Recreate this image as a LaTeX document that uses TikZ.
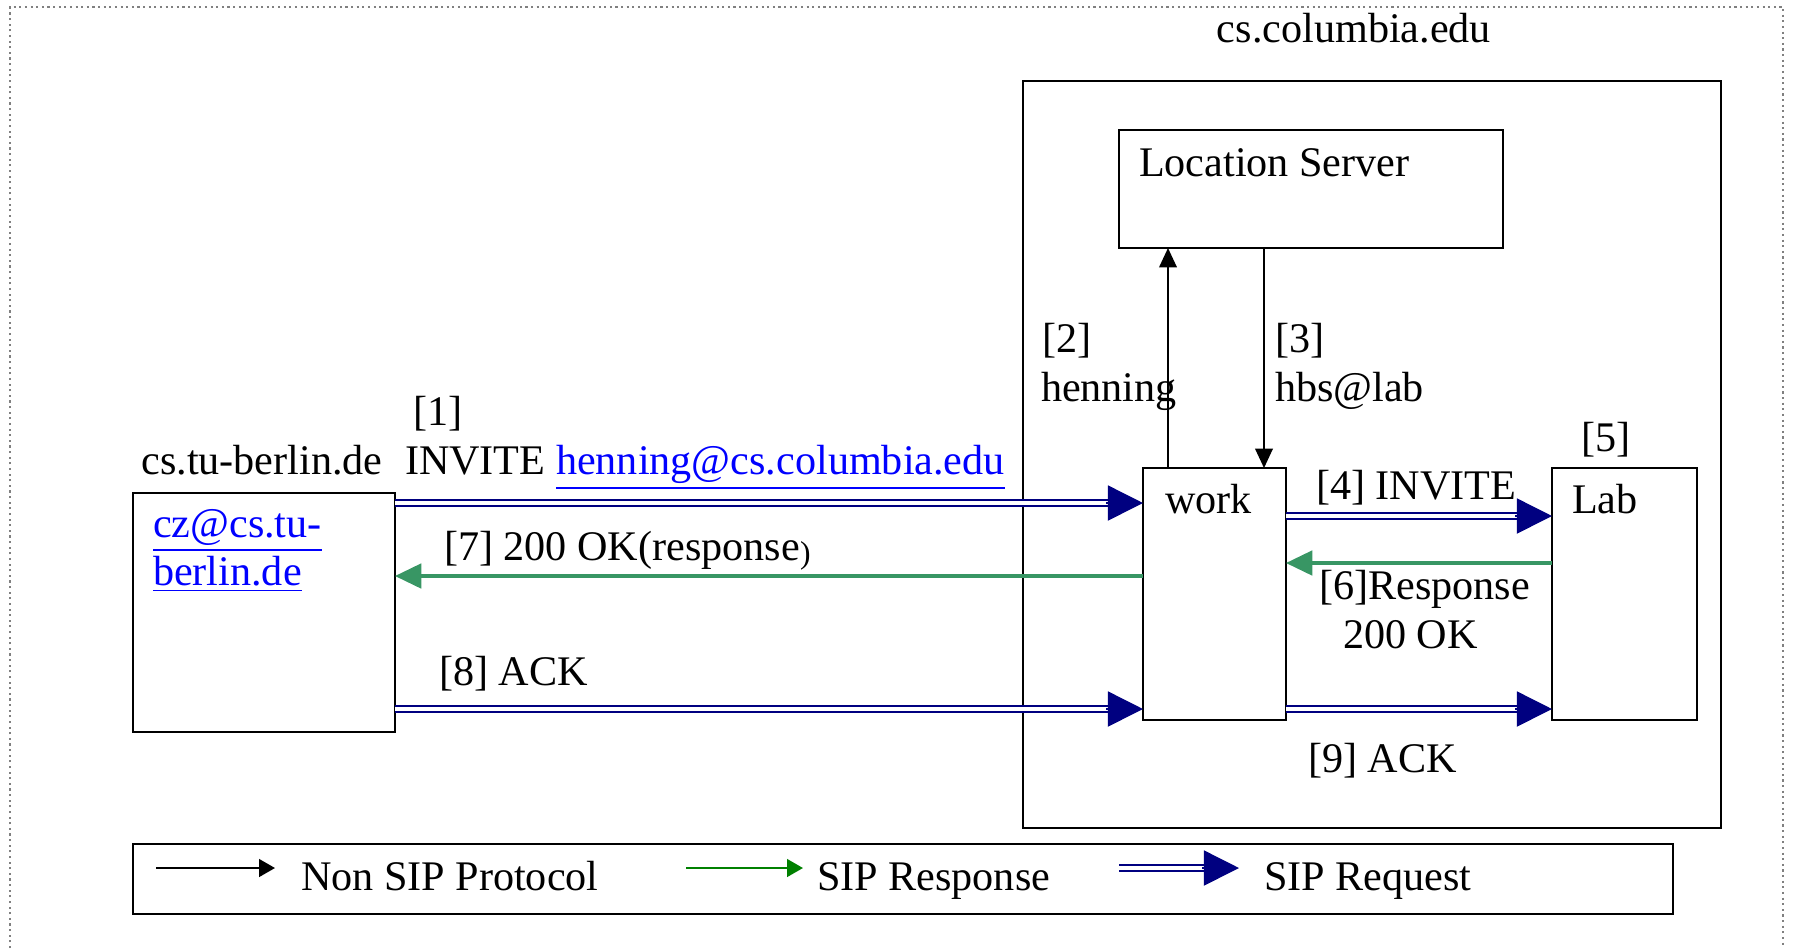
\documentclass[tikz,border=0pt]{standalone}
\usepackage{fontspec}
\setmainfont{Liberation Serif}
\usetikzlibrary{arrows.meta}
\definecolor{navyb}{RGB}{0,0,128}
\definecolor{resgreen}{RGB}{56,150,100}
\definecolor{leggreen}{RGB}{0,128,0}
\definecolor{linkblue}{RGB}{0,0,255}
\newcommand\reqarrow[2]{%
  \draw[reqline] (#1) -- ([xshift=-9pt]#2);
  \draw[reqtip] ([xshift=-10.5pt]#2) -- (#2);}
\newcommand\linktext[1]{{\color{linkblue}\underline{#1}}}
\begin{document}
\begin{tikzpicture}[x=0.1mm,y=-0.1mm,
  font=\fontsize{12}{14}\selectfont,
  box/.style={draw=black, line width=0.55pt, inner sep=0pt, outer sep=0pt, anchor=north west},
  lbl/.style={anchor=base west, inner sep=0pt, outer sep=0pt},
  reqline/.style={draw=navyb, line width=0.45pt, double=white, double distance=1.25pt},
  reqtip/.style={draw=navyb, line width=0.4pt, -{Triangle[length=10pt,width=10pt]}},
  resarrow/.style={draw=resgreen, line width=0.9pt, -{Triangle[length=7.5pt,width=7pt]}},
  nonsip/.style={draw=black, line width=0.5pt, -{Triangle[length=5.5pt,width=5pt]}},
  border/.style={draw=gray, densely dotted, line width=0.6pt}
]
\useasboundingbox (0,0) rectangle (1799,948);
% outer dotted frame
\coordinate (fbl) at (10,948);
\coordinate (ftl) at (10,7);
\coordinate (ftr) at (1783,7);
\coordinate (fbr) at (1783,948);
\draw[border] (fbl) -- (ftl) -- (ftr) -- (fbr);

% boxes
\node[box, minimum width=69.8mm, minimum height=74.7mm] (col) at (1023,81) {};
\node[anchor=base, inner sep=0pt] (coltxt) at (1354,42) {cs.columbia.edu};
\node[box, minimum width=38.4mm, minimum height=11.8mm] (ls) at (1119,130) {};
\node[lbl] (lstxt) at (1139,176) {Location Server};
\node[box, minimum width=14.3mm, minimum height=25.2mm] (work) at (1143,468) {};
\node[lbl] (worktxt) at (1165,513) {work};
\node[box, minimum width=14.5mm, minimum height=25.2mm] (lab) at (1552,468) {};
\node[lbl] (labtxt) at (1572,513) {Lab};
\node[box, minimum width=26.2mm, minimum height=23.9mm] (cz) at (133,493) {};
\node[lbl] (cz1) at (153,537) {\linktext{cz@cs.tu-}};
\node[lbl] (cz2) at (153,585) {\linktext{berlin.de}};
\node[anchor=base, inner sep=0pt] (tub) at (262,474) {cs.tu-berlin.de};

% labels
\node[lbl] (l1a) at (413,425) {[1]};
\node[lbl] (l1b) at (405,474) {INVITE \linktext{henning@cs.columbia.edu}};
\node[lbl] (l7) at (444,560) {[7] 200 OK(response{\fontsize{9}{9}\selectfont\raisebox{-1pt}{)}}};
\node[lbl] (l8) at (439,685) {[8] ACK};
\node[lbl] (l2a) at (1042,352) {[2]};
\node[lbl] (l2b) at (1041,401) {henning};
\node[lbl] (l3a) at (1275,352) {[3]};
\node[lbl] (l3b) at (1275,401) {hbs@lab};
\node[lbl] (l5) at (1581,451) {[5]};
\node[lbl] (l4) at (1316,499) {[4] INVITE};
\node[lbl] (l6a) at (1319,599) {[6]Response};
\node[lbl] (l6b) at (1343,648) {200 OK};
\node[lbl] (l9) at (1308,772) {[9] ACK};

% connectors
\reqarrow{cz.east |- 0,503}{work.west |- 0,503}
\draw[resarrow] (work.west |- 0,576) -- (cz.east |- 0,576);
\reqarrow{cz.east |- 0,709}{work.west |- 0,709}
\reqarrow{work.east |- 0,516}{lab.west |- 0,516}
\draw[resarrow] (lab.west |- 0,563) -- (work.east |- 0,563);
\reqarrow{work.east |- 0,709}{lab.west |- 0,709}
\draw[nonsip] (1168,0 |- work.north) -- (1168,0 |- ls.south);
\draw[nonsip] (1264,0 |- ls.south) -- (1264,0 |- work.north);

% legend
\node[box, minimum width=154mm, minimum height=7mm] (leg) at (133,844) {};
\coordinate (k1a) at (156,868);
\coordinate (k1b) at (275,868);
\coordinate (k2a) at (686,868);
\coordinate (k2b) at (803,868);
\coordinate (k3a) at (1119,868);
\coordinate (k3b) at (1239,868);
\draw[draw=black, line width=0.6pt, -{Triangle[length=4.5pt,width=5pt]}] (k1a) -- (k1b);
\node[lbl] (t1) at (301,890) {Non SIP Protocol};
\draw[draw=leggreen, line width=0.6pt, -{Triangle[length=4.5pt,width=5pt]}] (k2a) -- (k2b);
\node[lbl] (t2) at (817,890) {SIP Response};
\reqarrow{k3a}{k3b}
\node[lbl] (t3) at (1264,890) {SIP Request};
\end{tikzpicture}
\end{document}
